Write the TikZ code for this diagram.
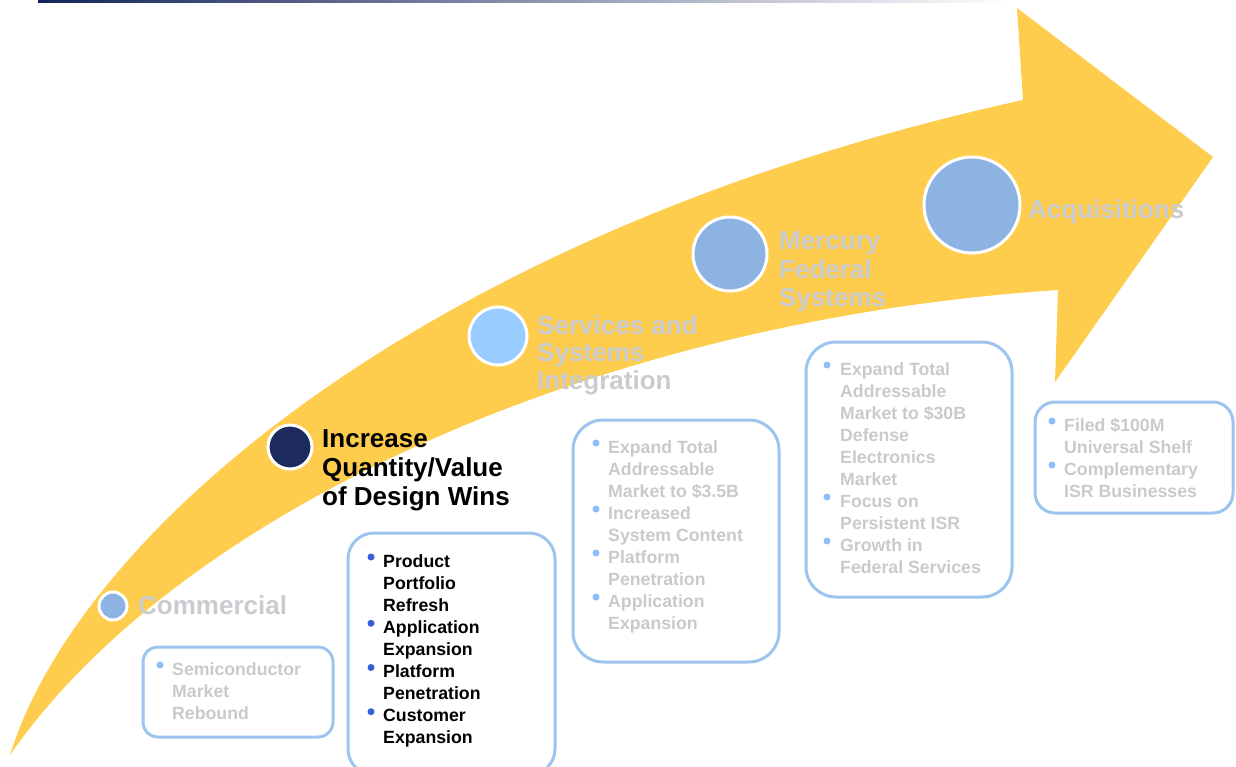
\documentclass[tikz,border=0pt]{standalone}
\usepackage{fontspec}
\setmainfont{Liberation Sans}
\definecolor{arrowyellow}{RGB}{255,205,77}
\definecolor{headgray}{RGB}{201,203,207}
\definecolor{boxgray}{RGB}{202,202,202}
\definecolor{boxblue}{RGB}{157,196,238}
\definecolor{dotlight}{RGB}{140,190,250}
\definecolor{dotdark}{RGB}{55,95,215}
\definecolor{steel}{RGB}{141,179,226}
\definecolor{skyb}{RGB}{153,204,255}
\definecolor{navyc}{RGB}{28,42,92}
\definecolor{navyline}{RGB}{20,35,90}
\begin{document}
\begin{tikzpicture}[x=1pt,y=-1pt,
  stage/.style={circle,draw=white,line width=3pt,inner sep=0pt},
  head/.style={inner sep=0pt,anchor=base west,font=\bfseries\fontsize{26}{28.5}\selectfont},
  boxtext/.style={inner sep=0pt,anchor=base west,font=\bfseries\fontsize{17.7}{22}\selectfont},
  listbox/.style={draw=boxblue,line width=3pt,fill=white},
  dot/.style={circle,inner sep=0pt,minimum size=7pt}]
\useasboundingbox (0,0) rectangle (1236,767);
% top rule
\shade[left color=navyline,right color=white] (38,0) rectangle (1010,3);
% arrow
\fill[arrowyellow] (10,755) .. controls (80,530) and (430,230) .. (1023,100)
  -- (1017,8) -- (1213,157) -- (1055,382) -- (1058,290)
  .. controls (600,320) and (180,510) .. (10,755) -- cycle;
% stage circles
\node[stage,fill=steel,minimum size=28pt] (cComm) at (113,606) {};
\node[stage,fill=navyc,minimum size=44pt] (cInc) at (290,447) {};
\node[stage,fill=skyb,minimum size=58pt] (cServ) at (498,336) {};
\node[stage,fill=steel,minimum size=74pt] (cMerc) at (730,254) {};
\node[stage,fill=steel,minimum size=96pt] (cAcq) at (972,205) {};
% headings
\node[head,text=headgray] (hComm) at (138,614) {Commercial};
\foreach \t [count=\i] in {Increase,Quantity/Value,of Design Wins}
  \node[head,text=black] (hInc-\i) at (322,447+29*\i-29) {\t};
\foreach \t [count=\i] in {Services and,Systems,Integration}
  \node[head,text=headgray] (hServ-\i) at (537,334+27.5*\i-27.5) {\t};
\foreach \t [count=\i] in {Mercury,Federal,Systems}
  \node[head,text=headgray] (hMerc-\i) at (779,250+28*\i-28) {\t};
\node[head,text=headgray] (hAcq) at (1028,219) {Acquisitions};
% box 1
\draw[listbox,rounded corners=15pt] (143,647) rectangle (333,737);
\foreach \t [count=\i] in {Semiconductor,Market,Rebound}
  \node[boxtext,text=boxgray] (bOne-\i) at (172,675+22*\i-22) {\t};
\node[dot,fill=dotlight] (dOne-1) at (160,665) {};
% box 2
\draw[listbox,rounded corners=26pt] (348,533) rectangle (555,775);
\foreach \t [count=\i] in {Product,Portfolio,Refresh,Application,Expansion,Platform,Penetration,Customer,Expansion}
  \node[boxtext,text=black] (bTwo-\i) at (383,567+22.1*\i-22.1) {\t};
\foreach \k [count=\i] in {0,3,5,7}
  \node[dot,fill=dotdark] (dTwo-\i) at (371,557+22.1*\k) {};
% box 3
\draw[listbox,rounded corners=30pt] (573,420) rectangle (779,662);
\foreach \t [count=\i] in {Expand Total,Addressable,Market to \$3.5B,Increased,System Content,Platform,Penetration,Application,Expansion}
  \node[boxtext,text=boxgray] (bThree-\i) at (608,453+22*\i-22) {\t};
\foreach \k [count=\i] in {0,3,5,7}
  \node[dot,fill=dotlight] (dThree-\i) at (596,443+22*\k) {};
% box 4
\draw[listbox,rounded corners=30pt] (806,342) rectangle (1012,597);
\foreach \t [count=\i] in {Expand Total,Addressable,Market to \$30B,Defense,Electronics,Market,Focus on,Persistent ISR,Growth in,Federal Services}
  \node[boxtext,text=boxgray] (bFour-\i) at (840,375+22*\i-22) {\t};
\foreach \k [count=\i] in {0,6,8}
  \node[dot,fill=dotlight] (dFour-\i) at (827,365+22*\k) {};
% box 5
\draw[listbox,rounded corners=20pt] (1035,402) rectangle (1233,513);
\foreach \t [count=\i] in {Filed \$100M,Universal Shelf,Complementary,ISR Businesses}
  \node[boxtext,text=boxgray] (bFive-\i) at (1064,431+22*\i-22) {\t};
\foreach \k [count=\i] in {0,2}
  \node[dot,fill=dotlight] (dFive-\i) at (1052,421+22*\k) {};
\end{tikzpicture}
\end{document}
